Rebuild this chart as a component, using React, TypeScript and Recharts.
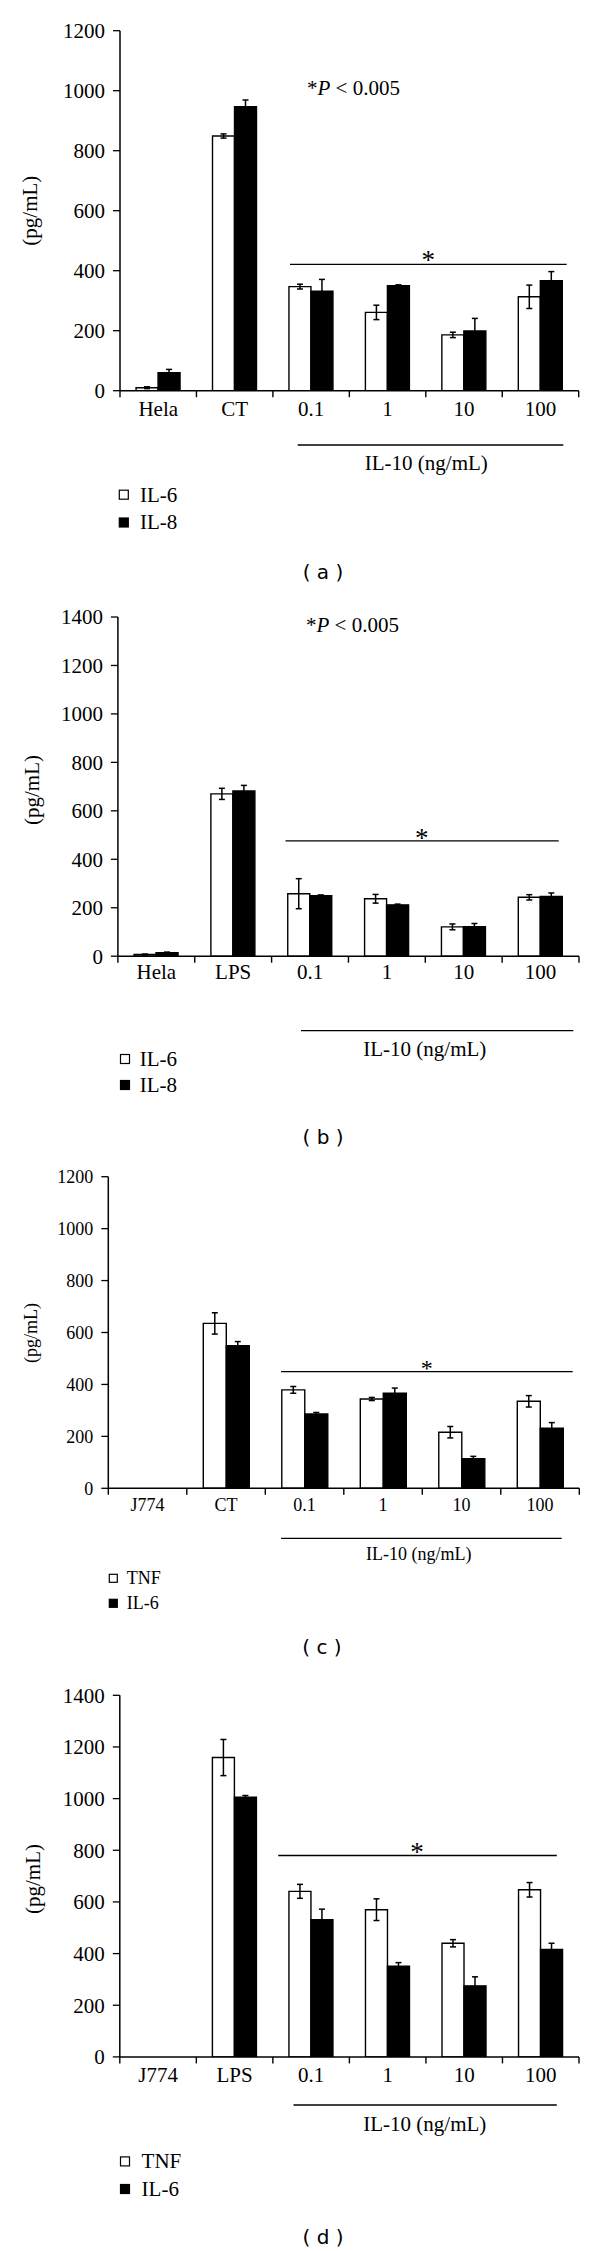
import React from 'react';
import { BarChart, Bar, XAxis, YAxis, ErrorBar } from 'recharts';

// ---------- data ----------
const categoriesA = ['Hela', 'CT', '0.1', '1', '10', '100'];
const il6A = [10, 849, 347, 261, 186, 313];
const il6ErrA = [3, 7, 8, 24, 9, 39];
const il8A = [60, 947, 332, 350, 199, 367];
const il8ErrA = [11, 22, 39, 3, 42, 30];

const categoriesB = ['Hela', 'LPS', '0.1', '1', '10', '100'];
const il6B = [7, 670, 258, 237, 121, 243];
const il6ErrB = [2, 23, 62, 18, 12, 11];
const il8B = [14, 682, 250, 212, 122, 247];
const il8ErrB = [3, 23, 3, 3, 13, 14];

const categoriesC = ['J774', 'CT', '0.1', '1', '10', '100'];
const tnfC = [0, 635, 379, 344, 216, 335];
const tnfErrC = [0, 41, 13, 6, 22, 22];
const il6C = [0, 549, 286, 366, 114, 231];
const il6ErrC = [0, 16, 6, 20, 9, 22];

const categoriesD = ['J774', 'LPS', '0.1', '1', '10', '100'];
const tnfD = [0, 1159, 641, 570, 440, 647];
const tnfErrD = [0, 70, 27, 42, 14, 28];
const il6D = [0, 1005, 531, 351, 275, 416];
const il6ErrD = [0, 7, 41, 14, 35, 24];

const yTicks1200 = [0, 200, 400, 600, 800, 1000, 1200];
const yTicks1400 = [0, 200, 400, 600, 800, 1000, 1200, 1400];

const legendAB = ['IL-6', 'IL-8'];
const legendCD = ['TNF', 'IL-6'];
const yLabelText = '(pg/mL)';
const groupLabel = 'IL-10 (ng/mL)';
const pValueText = ' < 0.005';
const panelLetters = ['a', 'b', 'c', 'd'];

// ---------- layout ----------
const SERIF = '"Liberation Serif", "Times New Roman", Times, serif';
const SANS = '"DejaVu Sans", Verdana, sans-serif';
const XAXIS_H = 30;

type Layout = {
  top: number; height: number; plotTop: number; zero: number; left: number; right: number;
  fs: number; tickBaseline: number;
  yLabel: [number, number];
  pText?: [number, number];
  starLine: [number, number, number]; star: [number, number];
  bottomLine: [number, number, number]; groupLabel: [number, number];
  legendX: number; legendY: [number, number]; legendTextX: number;
  letter: [number, number];
};

const layoutA: Layout = {
  top: 0, height: 560, plotTop: 30.7, zero: 390.7, left: 120, right: 578.7, fs: 21, tickBaseline: 25.3,
  yLabel: [31.7, 210.7], pText: [307, 95],
  starLine: [264.3, 290, 566.7], star: [428.3, 255],
  bottomLine: [445, 297.7, 563.3], groupLabel: [426.3, 463.3],
  legendX: 119.3, legendY: [494.7, 522.5], legendTextX: 140, letter: [323, 572],
};
const layoutB: Layout = {
  top: 580, height: 560, plotTop: 617, zero: 956.2, left: 117.9, right: 579, fs: 21, tickBaseline: 23,
  yLabel: [33.5, 790], pText: [306, 632],
  starLine: [840.8, 285.5, 558.7], star: [421.7, 833],
  bottomLine: [1030.6, 301, 573.3], groupLabel: [424.8, 1049.8],
  legendX: 120.5, legendY: [1059, 1085], legendTextX: 139.7, letter: [323, 1137],
};
const layoutC: Layout = {
  top: 1140, height: 540, plotTop: 1176.7, zero: 1488.3, left: 108.3, right: 579.3, fs: 18, tickBaseline: 22.7,
  yLabel: [32.5, 1333],
  starLine: [1371.7, 281, 572.7], star: [426.7, 1364],
  bottomLine: [1538.3, 281, 561.7], groupLabel: [418.8, 1555],
  legendX: 109.3, legendY: [1578.3, 1603.3], legendTextX: 126.7, letter: [322, 1647],
};
const layoutD: Layout = {
  top: 1680, height: 560, plotTop: 1695.3, zero: 2056.9, left: 119.8, right: 579, fs: 21, tickBaseline: 25.2,
  yLabel: [34.4, 1879],
  starLine: [1855.5, 278.2, 556.8], star: [417, 1847.5],
  bottomLine: [2105, 293.5, 556.8], groupLabel: [424.8, 2124.3],
  legendX: 120.5, legendY: [2161.4, 2189], legendTextX: 141.6, letter: [323, 2237],
};

type PanelSpec = {
  layout: Layout; categories: string[]; s1: number[]; e1: number[]; s2: number[]; e2: number[];
  yTicks: number[]; legend: string[]; letter: string;
};

const panels: PanelSpec[] = [
  { layout: layoutA, categories: categoriesA, s1: il6A, e1: il6ErrA, s2: il8A, e2: il8ErrA, yTicks: yTicks1200, legend: legendAB, letter: panelLetters[0] },
  { layout: layoutB, categories: categoriesB, s1: il6B, e1: il6ErrB, s2: il8B, e2: il8ErrB, yTicks: yTicks1400, legend: legendAB, letter: panelLetters[1] },
  { layout: layoutC, categories: categoriesC, s1: tnfC, e1: tnfErrC, s2: il6C, e2: il6ErrC, yTicks: yTicks1200, legend: legendCD, letter: panelLetters[2] },
  { layout: layoutD, categories: categoriesD, s1: tnfD, e1: tnfErrD, s2: il6D, e2: il6ErrD, yTicks: yTicks1400, legend: legendCD, letter: panelLetters[3] },
];

function makeTick(L: Layout, n: number) {
  const bw = (L.right - L.left) / n;
  return (props: any) => {
    const { x, y, payload, index } = props;
    return (
      <g>
        <line x1={x - bw / 2} x2={x - bw / 2} y1={y} y2={y + 6.5} stroke="#000" strokeWidth={1.4} />
        {index === n - 1 && (
          <line x1={x + bw / 2} x2={x + bw / 2} y1={y} y2={y + 6.5} stroke="#000" strokeWidth={1.4} />
        )}
        <text x={x} y={y + L.tickBaseline} textAnchor="middle" fontFamily={SERIF} fontSize={L.fs} fill="#000">
          {payload.value}
        </text>
      </g>
    );
  };
}

function PanelChart({ spec }: { spec: PanelSpec }) {
  const L = spec.layout;
  const rows = spec.categories.map((c, i) => ({
    cat: c, s1: spec.s1[i], e1: spec.e1[i], s2: spec.s2[i], e2: spec.e2[i],
  }));
  const yMax = spec.yTicks[spec.yTicks.length - 1];
  return (
    <div style={{ position: 'absolute', left: 0, top: L.top, width: 600, height: L.height }}>
      <BarChart
        width={600}
        height={L.height}
        data={rows}
        margin={{ top: L.plotTop - L.top, right: 600 - L.right, bottom: L.top + L.height - L.zero - XAXIS_H, left: 0 }}
        barCategoryGap="21%"
        barGap={0}
      >
        <XAxis
          dataKey="cat"
          height={XAXIS_H}
          interval={0}
          axisLine={{ stroke: '#000', strokeWidth: 1.5 }}
          tickLine={false}
          tickSize={0}
          tickMargin={0}
          tick={makeTick(L, spec.categories.length)}
        />
        <YAxis
          width={L.left}
          domain={[0, yMax]}
          ticks={spec.yTicks}
          interval={0}
          allowDataOverflow
          axisLine={{ stroke: '#000', strokeWidth: 1.5 }}
          tickLine={{ stroke: '#000', strokeWidth: 1.3 }}
          tickSize={7}
          tickMargin={8}
          tick={{ fill: '#000', fontSize: L.fs, fontFamily: SERIF }}
        />
        <Bar dataKey="s1" fill="#fff" stroke="#000" strokeWidth={1.4} isAnimationActive={false}>
          <ErrorBar dataKey="e1" width={3} stroke="#000" strokeWidth={1.5} direction="y" />
        </Bar>
        <Bar dataKey="s2" fill="#000" stroke="#000" strokeWidth={1.4} isAnimationActive={false}>
          <ErrorBar dataKey="e2" width={3} stroke="#000" strokeWidth={1.5} direction="y" />
        </Bar>
      </BarChart>
    </div>
  );
}

function PanelAnnotations({ spec }: { spec: PanelSpec }) {
  const L = spec.layout;
  const fs = L.fs;
  const sq = fs === 18 ? 8 : 9;
  return (
    <g>
      <text
        transform={`translate(${L.yLabel[0] + fs * 0.25}, ${L.yLabel[1]}) rotate(-90)`}
        textAnchor="middle" fontFamily={SERIF} fontSize={fs} fill="#000"
      >
        {yLabelText}
      </text>
      {L.pText && (
        <text x={L.pText[0]} y={L.pText[1]} fontFamily={SERIF} fontSize={fs} fill="#000">
          <tspan>*</tspan>
          <tspan fontStyle="italic">P</tspan>
          <tspan>{pValueText}</tspan>
        </text>
      )}
      <line x1={L.starLine[1]} x2={L.starLine[2]} y1={L.starLine[0]} y2={L.starLine[0]} stroke="#000" strokeWidth={1.3} />
      <text x={L.star[0]} y={L.star[1] + 0.5 * (fs + 6)} textAnchor="middle" fontFamily={SERIF} fontSize={fs + 6} fill="#000">*</text>
      <line x1={L.bottomLine[1]} x2={L.bottomLine[2]} y1={L.bottomLine[0]} y2={L.bottomLine[0]} stroke="#000" strokeWidth={1.3} />
      <text x={L.groupLabel[0]} y={L.groupLabel[1] + fs * 0.3} textAnchor="middle" fontFamily={SERIF} fontSize={fs} fill="#000">
        {groupLabel}
      </text>
      {spec.legend.map((name, i) => (
        <g key={name + i}>
          <rect
            x={L.legendX} y={L.legendY[i] - sq / 2} width={sq} height={sq}
            fill={i === 0 ? '#fff' : '#000'} stroke="#000" strokeWidth={1.2}
          />
          <text x={L.legendTextX} y={L.legendY[i] + fs * 0.33} fontFamily={SERIF} fontSize={fs} fill="#000">{name}</text>
        </g>
      ))}
      <text x={L.letter[0]} y={L.letter[1] + 7} textAnchor="middle" fontFamily={SANS} fontSize={20} fill="#000" xmlSpace="preserve">
        {`( ${spec.letter} )`}
      </text>
    </g>
  );
}

export default function App() {
  return (
    <div style={{ position: 'absolute', left: 0, top: 0, width: 600, height: 2251, background: '#fff', overflow: 'hidden' }}>
      {panels.map((p) => (
        <PanelChart key={p.letter} spec={p} />
      ))}
      <svg
        width={600}
        height={2251}
        style={{ position: 'absolute', left: 0, top: 0, pointerEvents: 'none' }}
      >
        {panels.map((p) => (
          <PanelAnnotations key={p.letter} spec={p} />
        ))}
      </svg>
    </div>
  );
}
